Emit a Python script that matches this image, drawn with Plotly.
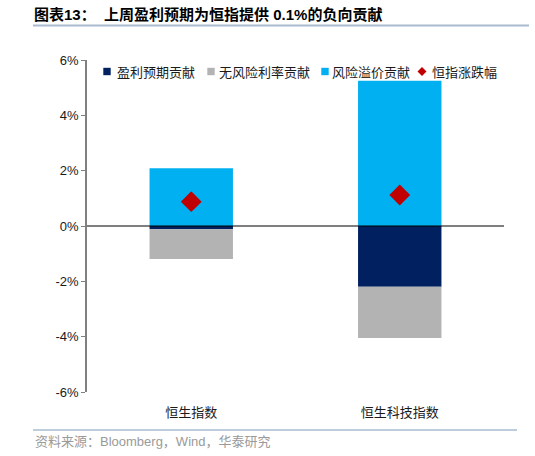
import plotly.graph_objects as go

# ---- data ----
categories = ["恒生指数", "恒生科技指数"]
earnings = [-0.12, -2.20]        # 盈利预期贡献
riskfree = [-1.07, -1.85]        # 无风险利率贡献
premium = [2.09, 5.25]           # 风险溢价贡献
index_chg = [0.88, 1.12]         # 恒指涨跌幅
series_names = ["盈利预期贡献", "无风险利率贡献", "风险溢价贡献", "恒指涨跌幅"]
colors = ["#002060", "#b3b3b3", "#00b0f0", "#c00000"]
y_ticks = [-6, -4, -2, 0, 2, 4, 6]

W, H = 535, 456
L, R, T, B = 87, 504, 60, 392  # plot area in px


def px(xp):
    return (xp - L) / (R - L)


def py(yp):
    return (B - yp) / (B - T)


CJK = "Noto Sans CJK SC"
MIX = "Liberation Sans, Noto Sans CJK SC"

fig = go.Figure()
for name, vals, col in zip(series_names[:3], [earnings, riskfree, premium], colors[:3]):
    fig.add_trace(go.Bar(x=categories, y=vals, name=name, marker=dict(color=col, line=dict(width=0)),
                         width=0.4, showlegend=False))
fig.add_trace(go.Scatter(x=categories, y=index_chg, name=series_names[3], mode="markers",
                         marker=dict(symbol="diamond", size=16, color=colors[3]), showlegend=False))

shapes = []
annotations = []

# zero line above bars
shapes.append(dict(type="line", xref="paper", yref="y", x0=0, x1=1, y0=0, y1=0,
                   line=dict(color="black", width=1.2), layer="above"))
# title underline & footer line
shapes.append(dict(type="line", xref="paper", yref="paper", x0=px(33), x1=px(529), y0=py(25.5), y1=py(25.5),
                   line=dict(color="#a9bccf", width=2)))
shapes.append(dict(type="line", xref="paper", yref="paper", x0=px(33), x1=px(517), y0=py(430), y1=py(430),
                   line=dict(color="#a9bccf", width=1.5)))

# title
annotations.append(dict(xref="paper", yref="paper", x=px(32), y=py(14), xanchor="left", yanchor="middle",
                        text="<b>图表13：  上周盈利预期为恒指提供 0.1%的负向贡献</b>", showarrow=False,
                        font=dict(family=MIX, size=15, color="black")))
# source
annotations.append(dict(xref="paper", yref="paper", x=px(33), y=py(441), xanchor="left", yanchor="middle",
                        text="资料来源：Bloomberg，Wind，华泰研究", showarrow=False,
                        font=dict(family=MIX, size=13, color="#9a9a9a")))

# legend (manual)
sq_centers = [107, 211, 325]
text_starts = [115, 217, 330, 430]
ly = 71.5
for i in range(3):
    cx = sq_centers[i]
    shapes.append(dict(type="rect", xref="paper", yref="paper", x0=px(cx - 3.7), x1=px(cx + 3.7),
                       y0=py(ly + 3.7), y1=py(ly - 3.7), fillcolor=colors[i], line=dict(width=0)))
dx, dy = 422, ly
shapes.append(dict(type="path", xref="paper", yref="paper",
                   path=f"M {px(dx-4.5)},{py(dy)} L {px(dx)},{py(dy-4.5)} L {px(dx+4.5)},{py(dy)} L {px(dx)},{py(dy+4.5)} Z",
                   fillcolor=colors[3], line=dict(width=0)))
for name, xs in zip(series_names, text_starts):
    annotations.append(dict(xref="paper", yref="paper", x=px(xs), y=py(ly), xanchor="left", yanchor="middle",
                            text=name, showarrow=False, font=dict(family=CJK, size=13, color="#1a1a1a")))

fig.update_layout(
    width=W, height=H,
    margin=dict(l=L, r=W - R, t=T, b=H - B),
    paper_bgcolor="white", plot_bgcolor="white",
    barmode="relative",
    bargap=0.6,
    showlegend=False,
    shapes=shapes, annotations=annotations,
    font=dict(family="Liberation Sans, Arial", size=13, color="#1a1a1a"),
)
fig.update_xaxes(showline=False, showgrid=False, zeroline=False, ticks="outside", ticklen=8,
                 tickcolor="rgba(0,0,0,0)", tickfont=dict(family=CJK, size=13, color="#1a1a1a"))
fig.update_yaxes(range=[-6, 6], tickvals=y_ticks, ticktext=[f"{v}%" for v in y_ticks],
                 showline=True, linecolor="#808080", linewidth=1.5, ticks="outside", ticklen=4,
                 tickcolor="#808080", showgrid=False, zeroline=False,
                 tickfont=dict(family="Liberation Sans, Arial", size=13, color="#1a1a1a"))

fig.write_html("out.html")
